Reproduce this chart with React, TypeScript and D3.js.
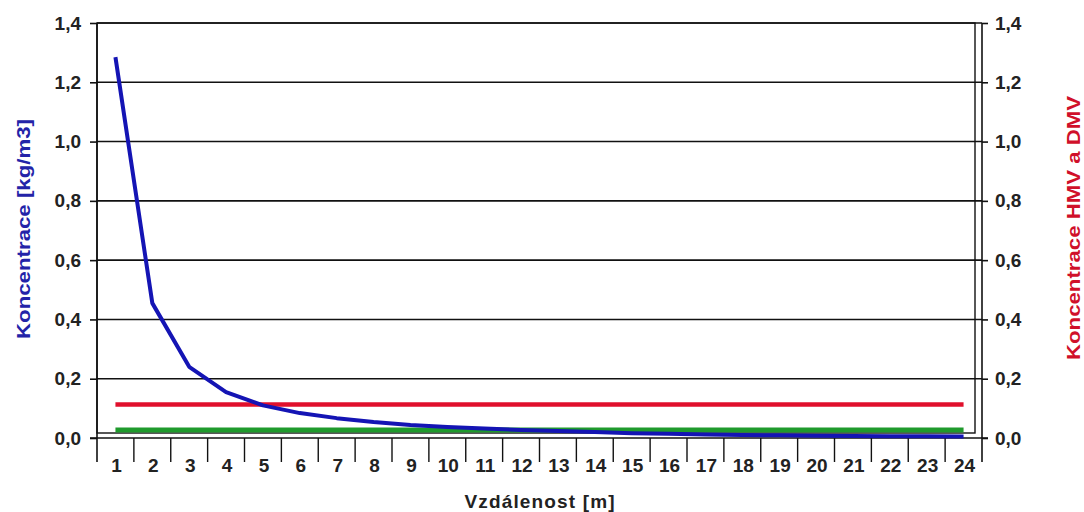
import { useEffect, useRef } from "react";
import * as d3 from "d3";

const categories = ["1", "2", "3", "4", "5", "6", "7", "8", "9", "10", "11", "12", "13", "14", "15", "16", "17", "18", "19", "20", "21", "22", "23", "24"];
// koncentrace [kg/m3]
const concentration = [1.285, 0.455, 0.24, 0.155, 0.11, 0.084, 0.067, 0.054, 0.044, 0.037, 0.032, 0.027, 0.024, 0.02, 0.016, 0.014, 0.012, 0.01, 0.009, 0.008, 0.007, 0.006, 0.006, 0.005];
// HMV (red) and DMV (green)
const hmv = [0.113, 0.113, 0.113, 0.113, 0.113, 0.113, 0.113, 0.113, 0.113, 0.113, 0.113, 0.113, 0.113, 0.113, 0.113, 0.113, 0.113, 0.113, 0.113, 0.113, 0.113, 0.113, 0.113, 0.113];
const dmv = [0.027, 0.027, 0.027, 0.027, 0.027, 0.027, 0.027, 0.027, 0.027, 0.027, 0.027, 0.027, 0.027, 0.027, 0.027, 0.027, 0.027, 0.027, 0.027, 0.027, 0.027, 0.027, 0.027, 0.027];
const yTicks = [0, 0.2, 0.4, 0.6, 0.8, 1.0, 1.2, 1.4];

const W = 1084;
const H = 512;
const left = 97;
const right = 982;
const top = 23;
const bottom = 438;
const FONT = "'Liberation Sans', Arial, sans-serif";

const App = () => {
  const ref = useRef<SVGSVGElement>(null);

  useEffect(() => {
    const svg = d3.select(ref.current);
    svg.selectAll("*").remove();

    const x = d3.scaleBand().domain(categories).range([left, right]).padding(0);
    const y = d3.scaleLinear().domain([0, 1.4]).range([bottom, top]);
    const fmt = (d: any) => d3.format(".1f")(d).replace(".", ",");
    const cx = (i: number) => (x(categories[i]) as number) + x.bandwidth() / 2;

    svg.append("rect").attr("width", W).attr("height", H).attr("fill", "#fff");

    // gridlines
    svg.append("g")
      .selectAll("line")
      .data(yTicks.filter((t) => t > 0))
      .join("line")
      .attr("x1", left)
      .attr("x2", right)
      .attr("y1", (d) => y(d))
      .attr("y2", (d) => y(d))
      .attr("stroke", "#111")
      .attr("stroke-width", 1.6);

    // plot area border
    svg.append("rect")
      .attr("x", left)
      .attr("y", top)
      .attr("width", right - 7 - left)
      .attr("height", bottom - 5 - top)
      .attr("fill", "none")
      .attr("stroke", "#111")
      .attr("stroke-width", 1.4);

    // y axes
    const yl = svg.append("g")
      .attr("transform", `translate(${left},0)`)
      .call(d3.axisLeft(y).tickValues(yTicks).tickSize(7).tickPadding(9).tickFormat(fmt));
    const yr = svg.append("g")
      .attr("transform", `translate(${right},0)`)
      .call(d3.axisRight(y).tickValues(yTicks).tickSize(6).tickPadding(7).tickFormat(fmt));
    [yl, yr].forEach((g) => {
      g.select(".domain").remove();
      g.selectAll(".tick line").attr("stroke", "#111").attr("stroke-width", 1.6);
      g.selectAll(".tick text")
        .attr("font-family", FONT)
        .attr("font-weight", "bold")
        .attr("font-size", 19)
        .attr("fill", "#222");
    });

    // axis lines
    svg.append("line").attr("x1", left).attr("x2", left).attr("y1", top).attr("y2", bottom + 24)
      .attr("stroke", "#111").attr("stroke-width", 1.6);
    svg.append("line").attr("x1", right).attr("x2", right).attr("y1", top).attr("y2", bottom + 24)
      .attr("stroke", "#111").attr("stroke-width", 1.6);
    svg.append("line").attr("x1", left - 7).attr("x2", right + 6).attr("y1", bottom).attr("y2", bottom)
      .attr("stroke", "#111").attr("stroke-width", 1.6);

    // category ticks + labels
    svg.append("g")
      .selectAll("line")
      .data(categories.slice(1))
      .join("line")
      .attr("x1", (d) => x(d) as number)
      .attr("x2", (d) => x(d) as number)
      .attr("y1", bottom)
      .attr("y2", bottom + 24)
      .attr("stroke", "#111")
      .attr("stroke-width", 1.4);
    svg.append("g")
      .selectAll("text")
      .data(categories)
      .join("text")
      .attr("x", (d) => (x(d) as number) + x.bandwidth() / 2 + 1)
      .attr("y", bottom + 34)
      .attr("text-anchor", "middle")
      .attr("font-family", FONT)
      .attr("font-weight", "bold")
      .attr("font-size", 19)
      .attr("fill", "#222")
      .text((d) => d);

    // series
    const line = d3.line<number>().x((_, i) => cx(i)).y((d) => y(d));
    svg.append("path").datum(dmv).attr("d", line).attr("fill", "none")
      .attr("stroke", "#1f9a2c").attr("stroke-width", 5);
    svg.append("path").datum(hmv).attr("d", line).attr("fill", "none")
      .attr("stroke", "#e0102c").attr("stroke-width", 4.5);
    svg.append("path").datum(concentration).attr("d", line).attr("fill", "none")
      .attr("stroke", "#1414b4").attr("stroke-width", 4).attr("stroke-linejoin", "round");

    // titles
    svg.append("text")
      .attr("transform", `translate(23,229) rotate(-90)`)
      .attr("text-anchor", "middle")
      .attr("dy", "0.35em")
      .attr("font-family", FONT)
      .attr("font-weight", "bold")
      .attr("font-size", 19)
      .attr("textLength", 220)
      .attr("lengthAdjust", "spacingAndGlyphs")
      .attr("fill", "#2323a8")
      .text("Koncentrace [kg/m3]");
    svg.append("text")
      .attr("transform", `translate(1073,228) rotate(-90)`)
      .attr("text-anchor", "middle")
      .attr("dy", "0.35em")
      .attr("font-family", FONT)
      .attr("font-weight", "bold")
      .attr("font-size", 19)
      .attr("textLength", 264)
      .attr("lengthAdjust", "spacingAndGlyphs")
      .attr("fill", "#d0102a")
      .text("Koncentrace HMV a DMV");
    svg.append("text")
      .attr("x", (left + right) / 2)
      .attr("y", 508)
      .attr("text-anchor", "middle")
      .attr("font-family", FONT)
      .attr("font-weight", "bold")
      .attr("font-size", 19)
      .attr("textLength", 150)
      .attr("lengthAdjust", "spacing")
      .attr("fill", "#222")
      .text("Vzdálenost [m]");
  }, []);

  return (
    <svg
      ref={ref}
      width={W}
      height={H}
      style={{ position: "absolute", left: 0, top: 0, display: "block" }}
    />
  );
};

export default App;
